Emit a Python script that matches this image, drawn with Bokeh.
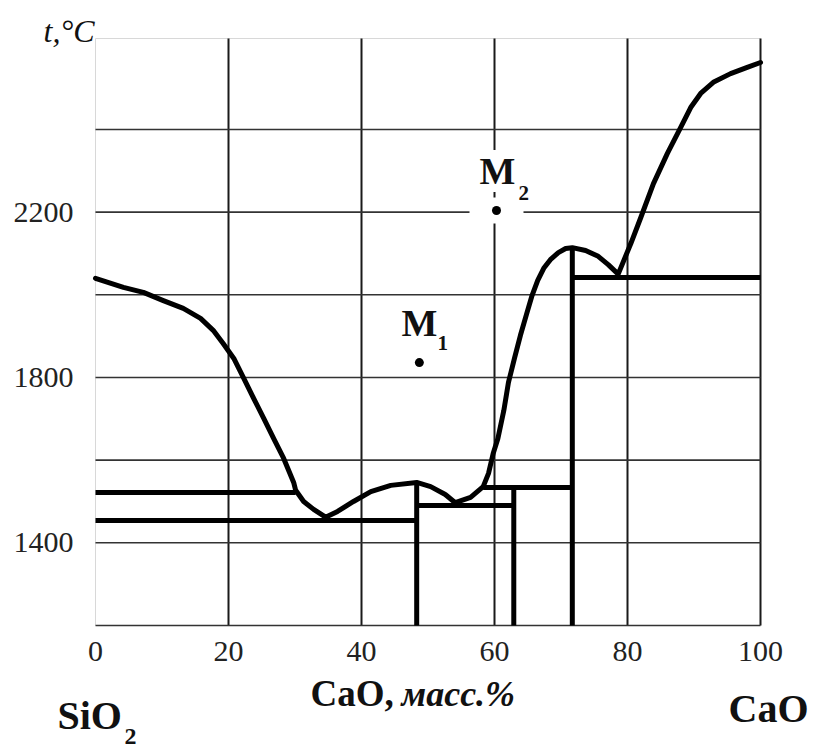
from bokeh.plotting import figure
from bokeh.models import Label, Range1d
from bokeh.core.properties import value
from bokeh.embed import file_html
from bokeh.resources import INLINE

# ---- data (CaO mass %, temperature °C) ----
liq_x = [0, 4.2, 7.2, 10.2, 13.2, 15.8, 17.7, 19.2, 20.8, 22.3, 23.8, 25.3, 26.8, 28.3, 29.8, 30.1,
         31.3, 32.8, 34.6, 36.4, 38.8, 41.4, 44.4, 48.3,
         50.4, 52.6, 54.1, 56.4, 58.3, 59.1, 59.8, 60.5, 61.4, 62.1, 63.0, 63.9, 64.8, 65.6,
         66.5, 67.4, 68.4, 69.6, 70.7, 71.7, 73.7, 75.6, 77.1, 78.6,
         80.5, 82.0, 83.9, 86.0, 88.0, 89.5, 91.0, 92.9, 95.5, 98.0, 100]
liq_t = [2040, 2018, 2006, 1986, 1967, 1943, 1914, 1882, 1846, 1798, 1749, 1701, 1652, 1604, 1546, 1527,
         1500, 1481, 1462, 1476, 1500, 1524, 1539, 1546,
         1536, 1517, 1497, 1510, 1536, 1568, 1616, 1652, 1720, 1788, 1846, 1902, 1952, 1996,
         2035, 2064, 2085, 2102, 2112, 2114, 2107, 2093, 2073, 2050,
         2124, 2187, 2269, 2342, 2405, 2453, 2487, 2514, 2535, 2550, 2562]

# horizontal invariant lines
hor_x0 = [0, 0, 48.3, 58.3, 71.7]
hor_x1 = [30.1, 48.3, 62.9, 71.7, 100]
hor_t = [1522, 1454, 1490, 1534, 2042]

# vertical compound lines
ver_x = [48.3, 62.9, 71.7]
ver_t = [1546, 1534, 2114]

# points M1, M2
pts_x = [48.7, 60.3]
pts_t = [1836, 2204]
pts_sub = ["1", "2"]

x_ticks = [0, 20, 40, 60, 80, 100]
y_ticks = [1400, 1800, 2200]
x_grid = [20, 40, 60, 80, 100]
y_grid = [1200, 1400, 1600, 1800, 2000, 2200, 2400]
x_min, x_max = 0, 100
t_min, t_max = 1200, 2620

# ---- layout (pixels) ----
W, H = 815, 749
L, R, T, B = 95, 760, 38, 625
kx = (R - L) / (x_max - x_min)
ky = (B - T) / (t_max - t_min)


def dx(px):
    return x_min + (px - L) / kx


def dy(py):
    return t_min + (B - py) / ky


SERIF = "Liberation Serif"
INK = "#111111"

p = figure(width=W, height=H,
           x_range=Range1d(dx(0), dx(W)), y_range=Range1d(dy(H), dy(0)),
           x_axis_location=None, y_axis_location=None,
           output_backend="svg", toolbar_location=None, min_border=0)
p.background_fill_color = "white"
p.border_fill_color = "white"
p.outline_line_color = None
p.xgrid.visible = False
p.ygrid.visible = False

# frame edges (light) and grid lines
p.segment(x0=[x_min], y0=[t_min], x1=[x_min], y1=[t_max], line_color="#d8d8d8", line_width=1)
p.segment(x0=[x_min], y0=[t_max], x1=[x_max], y1=[t_max], line_color="#d8d8d8", line_width=1)
p.segment(x0=x_grid, y0=[t_min] * len(x_grid), x1=x_grid, y1=[t_max] * len(x_grid),
          line_color="#1a1a1a", line_width=2)
p.segment(x0=[x_min] * len(y_grid), y0=y_grid, x1=[x_max] * len(y_grid), y1=y_grid,
          line_color="#333333", line_width=1.6)

# tick labels
p.text(x=x_ticks, y=[dy(641)] * len(x_ticks), text=[str(v) for v in x_ticks],
       text_font=value(SERIF), text_font_size="30px", text_align="center",
       text_baseline="top", text_color="#222222")
p.text(x=[dx(73)] * len(y_ticks), y=y_ticks, text=[str(v) for v in y_ticks],
       text_font=value(SERIF), text_font_size="30px", text_align="right",
       text_baseline="middle", text_color="#222222")

# invariant lines
p.multi_line(xs=[[a, b] for a, b in zip(hor_x0, hor_x1)],
             ys=[[t, t] for t in hor_t], line_color="black", line_width=5)
p.segment(x0=ver_x, y0=[t_min] * len(ver_x), x1=ver_x, y1=ver_t,
          line_color="black", line_width=5)
# liquidus
p.line(liq_x, liq_t, line_color="black", line_width=5, line_join="round", line_cap="round")

# points with white halo
p.rect(x=pts_x, y=pts_t, width=54, height=26, width_units="screen", height_units="screen",
       fill_color="white", line_color=None)
p.scatter(pts_x, pts_t, size=9, color="black", line_color=None)


def lab(px, py, text, size, style, align="left", bg=None):
    # px, py: left/right edge and baseline of the text, in pixels
    p.add_layout(Label(x=dx(px), y=dy(py - 0.38 * size), text=text, text_font=SERIF,
                       text_font_style=style, text_font_size=f"{size}px",
                       text_baseline="alphabetic", text_align=align, text_color=INK,
                       background_fill_color=bg))


# M labels
m_pos = [(401, 337, 437, 350), (479, 185, 518, 200)]
for (mx, my, sx, sy), sub in zip(m_pos, pts_sub):
    lab(mx, my, "M", 38, "bold", bg="white")
    lab(sx, sy, sub, 21, "bold")

# axis titles
lab(43, 43, "t,°C", 32, "italic")
lab(310, 707, "CaO,", 37, "bold")
lab(401, 707, "масс.%", 36, "bold italic")
# component names
lab(57, 730, "SiO", 40, "bold")
lab(124, 745, "2", 24, "bold")
lab(808, 723, "CaO", 40, "bold", align="right")

open("out.html", "w").write(file_html(p, INLINE))
